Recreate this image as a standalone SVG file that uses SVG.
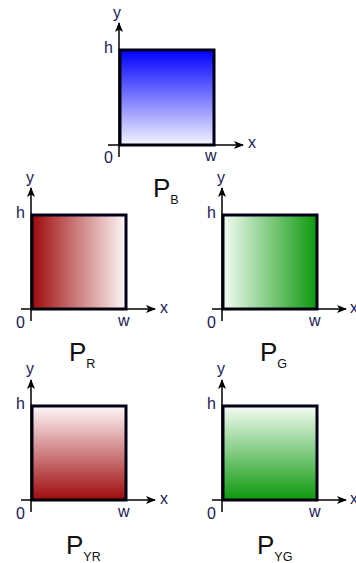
<svg xmlns="http://www.w3.org/2000/svg" width="356" height="563" viewBox="0 0 356 563">
<style>
.ax{stroke:#000;stroke-width:1.5;fill:none}
.bx{stroke:#000018;stroke-width:3}
.t{font-family:"Liberation Sans",Arial,sans-serif;font-size:16px;fill:#1a1a55}
.p{font-family:"Liberation Sans",Arial,sans-serif;font-size:26px;fill:#111}
.s{font-size:12.5px}
</style>
<defs>
<marker id="ah" viewBox="0 0 10 8" refX="9" refY="4" markerWidth="10" markerHeight="8" markerUnits="userSpaceOnUse" orient="auto"><path d="M0,0 L10,4 L0,8 L2.5,4 Z" fill="#000"/></marker>
<linearGradient id="gB" x1="0" y1="0" x2="0" y2="1"><stop offset="0" stop-color="#0000ff"/><stop offset="1" stop-color="#f4f4ff"/></linearGradient>
<linearGradient id="gR" x1="0" y1="0" x2="1" y2="0"><stop offset="0" stop-color="#9e0a0a"/><stop offset="1" stop-color="#fff8f8"/></linearGradient>
<linearGradient id="gG" x1="0" y1="0" x2="1" y2="0"><stop offset="0" stop-color="#f4fcf4"/><stop offset="1" stop-color="#0c990c"/></linearGradient>
<linearGradient id="gYR" x1="0" y1="0" x2="0" y2="1"><stop offset="0" stop-color="#fff8f8"/><stop offset="1" stop-color="#9e0a0a"/></linearGradient>
<linearGradient id="gYG" x1="0" y1="0" x2="0" y2="1"><stop offset="0" stop-color="#f4fcf4"/><stop offset="1" stop-color="#0c990c"/></linearGradient>
</defs>

<g id="plotB">
<rect class="bx" x="120" y="50" width="94" height="95" fill="url(#gB)"/>
<g class="connectors"><line class="ax" x1="119" y1="157" x2="119" y2="23" marker-end="url(#ah)"/><line class="ax" x1="108" y1="145" x2="243" y2="145" marker-end="url(#ah)"/></g>
<text class="t" x="113" y="18">y</text>
<text class="t" x="104" y="53">h</text>
<text class="t" x="104" y="163">0</text>
<text class="t" x="205" y="161">w</text>
<text class="t" x="248" y="148">x</text>
<text class="p" x="153" y="197">P<tspan class="s" dy="7">B</tspan></text>
</g>

<g id="plotR">
<rect class="bx" x="32" y="215" width="94" height="94" fill="url(#gR)"/>
<g class="connectors"><line class="ax" x1="31" y1="321" x2="31" y2="188" marker-end="url(#ah)"/><line class="ax" x1="21" y1="309" x2="155" y2="309" marker-end="url(#ah)"/></g>
<text class="t" x="26" y="183">y</text>
<text class="t" x="16" y="218">h</text>
<text class="t" x="16" y="328">0</text>
<text class="t" x="118" y="326">w</text>
<text class="t" x="160" y="313">x</text>
<text class="p" x="69" y="361">P<tspan class="s" dy="7">R</tspan></text>
</g>

<g id="plotG">
<rect class="bx" x="223" y="215" width="94" height="94" fill="url(#gG)"/>
<g class="connectors"><line class="ax" x1="222" y1="321" x2="222" y2="188" marker-end="url(#ah)"/><line class="ax" x1="212" y1="309" x2="346" y2="309" marker-end="url(#ah)"/></g>
<text class="t" x="217" y="183">y</text>
<text class="t" x="207" y="218">h</text>
<text class="t" x="207" y="328">0</text>
<text class="t" x="309" y="326">w</text>
<text class="t" x="350" y="313">x</text>
<text class="p" x="260" y="361">P<tspan class="s" dy="7">G</tspan></text>
</g>

<g id="plotYR">
<rect class="bx" x="32" y="406" width="94" height="94" fill="url(#gYR)"/>
<g class="connectors"><line class="ax" x1="31" y1="512" x2="31" y2="380" marker-end="url(#ah)"/><line class="ax" x1="21" y1="500" x2="155" y2="500" marker-end="url(#ah)"/></g>
<text class="t" x="26" y="374">y</text>
<text class="t" x="16" y="409">h</text>
<text class="t" x="16" y="519">0</text>
<text class="t" x="118" y="517">w</text>
<text class="t" x="160" y="504">x</text>
<text class="p" x="66" y="554">P<tspan class="s" dy="7">YR</tspan></text>
</g>

<g id="plotYG">
<rect class="bx" x="223" y="406" width="94" height="94" fill="url(#gYG)"/>
<g class="connectors"><line class="ax" x1="222" y1="512" x2="222" y2="380" marker-end="url(#ah)"/><line class="ax" x1="212" y1="500" x2="346" y2="500" marker-end="url(#ah)"/></g>
<text class="t" x="217" y="374">y</text>
<text class="t" x="207" y="409">h</text>
<text class="t" x="207" y="519">0</text>
<text class="t" x="309" y="517">w</text>
<text class="t" x="350" y="504">x</text>
<text class="p" x="257" y="554">P<tspan class="s" dy="7">YG</tspan></text>
</g>
</svg>
